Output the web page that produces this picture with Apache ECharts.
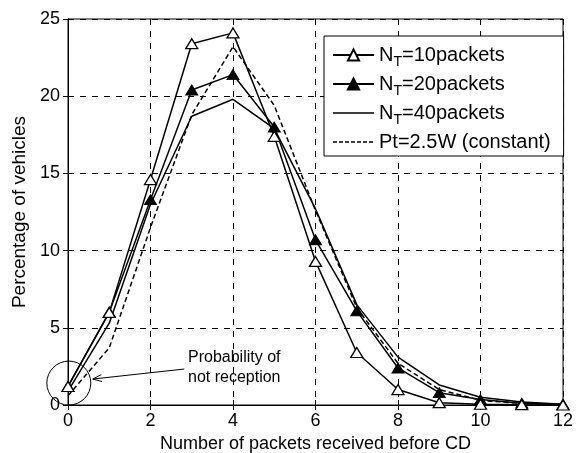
<!DOCTYPE html>
<html>
<head>
<meta charset="utf-8">
<script src="https://cdn.jsdelivr.net/npm/echarts@6/dist/echarts.min.js"></script>
<style>
html,body{margin:0;padding:0;background:#fff;}
#chart{width:585px;height:453px;}
</style>
</head>
<body>
<div id="chart"></div>
<script>
// Packets received before collision detection (CD)
const packets = [0, 1, 2, 3, 4, 5, 6, 7, 8, 9, 10, 11, 12];
const nt10 = [1.2, 6.0, 14.6, 23.4, 24.1, 17.4, 9.3, 3.4, 1.0, 0.15, 0.05, 0.02, 0.0];
const nt20 = [1.2, 6.0, 13.3, 20.4, 21.4, 18.0, 10.7, 6.1, 2.4, 0.8, 0.35, 0.12, 0.05];
const nt40 = [0.9, 5.3, 13.0, 18.7, 19.8, 17.9, 12.7, 6.5, 3.1, 1.3, 0.5, 0.2, 0.05];
const ptConst = [0.6, 3.7, 11.5, 18.8, 23.2, 19.4, 12.6, 6.3, 2.7, 1.0, 0.3, 0.1, 0.02];
const xTicks = [0, 2, 4, 6, 8, 10, 12];
const yTicks = [0, 5, 10, 15, 20, 25];

const seriesNames = ['NT10', 'NT20', 'NT40', 'Pt'];
const legendLabels = {
  NT10: '{n|N}{s|T}{n|=10packets}',
  NT20: '{n|N}{s|T}{n|=20packets}',
  NT40: '{n|N}{s|T}{n|=40packets}',
  Pt: '{n|Pt=2.5W (constant)}{s| }'
};

const FONT = '"Liberation Sans", Arial, sans-serif';
const pairs = arr => packets.map((x, i) => [x, arr[i]]);

// Legend icons: a plain line and a dashed line, with tiny corner specks so
// the path keeps the full icon box and is not stretched.
const speck = 'M0,0H0.01V0.01H0Z M41,14H40.99V13.99H41Z ';
const solidIcon = 'path://' + speck + 'M0,6.25H41V7.75H0Z';
let dashedIcon = 'path://' + speck;
for (let x = 0; x < 41; x += 6) {
  const e = Math.min(x + 4, 41);
  dashedIcon += 'M' + x + ',6.25H' + e + 'V7.75H' + x + 'Z ';
}

const chart = echarts.init(document.getElementById('chart'), null, {renderer: 'canvas'});

const gridLine = {show: true, lineStyle: {color: '#000', type: [6, 6], width: 1}};

const option = {
  backgroundColor: '#fff',
  animation: false,
  grid: {left: 68, right: 22, top: 19, bottom: 48, show: true, borderColor: '#000', borderWidth: 1,
         containLabel: false, outerBoundsMode: 'none'},
  legend: {
    orient: 'vertical',
    left: 324, top: 36,
    backgroundColor: '#fff',
    borderColor: '#000', borderWidth: 1,
    padding: [5, 9, 0, 8],
    itemWidth: 41, itemHeight: 14, itemGap: 1,
    data: [
      {name: 'NT10'},
      {name: 'NT20'},
      {name: 'NT40', icon: solidIcon},
      {name: 'Pt', icon: dashedIcon}
    ],
    formatter: name => legendLabels[name],
    textStyle: {
      color: '#000', fontFamily: FONT, fontSize: 20,
      rich: {
        n: {fontSize: 20, lineHeight: 22, fontFamily: FONT, color: '#000'},
        s: {fontSize: 14, lineHeight: 8, fontFamily: FONT, color: '#000', padding: [14, 0, 0, 0]}
      }
    }
  },
  xAxis: [{
    type: 'value', min: 0, max: 12, interval: 2,
    name: 'Number of packets received before CD',
    nameLocation: 'middle', nameGap: 29,
    nameTextStyle: {fontFamily: FONT, fontSize: 18, color: '#000'},
    axisLine: {show: true, onZero: false, lineStyle: {color: '#000', width: 1}},
    axisTick: {show: true, inside: true, length: 5, lineStyle: {color: '#000'}},
    axisLabel: {color: '#000', fontFamily: FONT, fontSize: 18, margin: 7,
      formatter: v => xTicks.includes(v) ? String(v) : ''},
    splitLine: gridLine
  }, {
    type: 'value', min: 0, max: 12, interval: 2, position: 'top',
    axisLine: {show: true, lineStyle: {color: '#000'}},
    axisTick: {show: true, inside: true, length: 5, lineStyle: {color: '#000'}},
    axisLabel: {show: false}, splitLine: {show: false}
  }],
  yAxis: [{
    type: 'value', min: 0, max: 25, interval: 5,
    name: 'Percentage of vehicles',
    nameLocation: 'middle', nameGap: 32,
    nameTextStyle: {fontFamily: FONT, fontSize: 19, color: '#000'},
    axisLine: {show: true, onZero: false, lineStyle: {color: '#000', width: 1}},
    axisTick: {show: true, inside: true, length: 5, lineStyle: {color: '#000'}},
    axisLabel: {color: '#000', fontFamily: FONT, fontSize: 18, margin: 8,
      formatter: v => yTicks.includes(v) ? String(v) : ''},
    splitLine: gridLine
  }, {
    type: 'value', min: 0, max: 25, interval: 5, position: 'right',
    axisLine: {show: true, lineStyle: {color: '#000'}},
    axisTick: {show: true, inside: true, length: 5, lineStyle: {color: '#000'}},
    axisLabel: {show: false}, splitLine: {show: false}
  }],
  series: [
    {
      name: 'NT10', type: 'line', data: pairs(nt10),
      symbol: 'triangle', symbolSize: [12, 10], showAllSymbol: true,
      lineStyle: {color: '#000', width: 1.5},
      itemStyle: {color: '#fff', borderColor: '#000', borderWidth: 1.3},
      z: 5
    },
    {
      name: 'NT20', type: 'line', data: pairs(nt20),
      symbol: 'triangle', symbolSize: [12, 10], showAllSymbol: true,
      lineStyle: {color: '#000', width: 1.5},
      itemStyle: {color: '#000', borderColor: '#000', borderWidth: 1},
      z: 4
    },
    {
      name: 'NT40', type: 'line', data: pairs(nt40),
      symbol: 'none',
      lineStyle: {color: '#000', width: 1.5},
      itemStyle: {color: '#000'},
      z: 3
    },
    {
      name: 'Pt', type: 'line', data: pairs(ptConst),
      symbol: 'none',
      lineStyle: {color: '#000', width: 1.5, type: [5, 3]},
      itemStyle: {color: '#000'},
      z: 3
    }
  ]
};

chart.setOption(option);

// Annotation: circle around the x = 0 values, with a labelled arrow
const px = (x, y) => chart.convertToPixel({gridIndex: 0}, [x, y]);
const c = px(0.02, 1.42);
const a0 = px(2.82, 2.33);
const a1 = px(0.6, 1.68);
const t1 = px(4.03, 3.1);
const t2 = px(4.03, 1.8);
chart.setOption({
  graphic: [
    {type: 'circle', shape: {cx: c[0], cy: c[1], r: 22},
     style: {fill: 'none', stroke: '#000', lineWidth: 1}, z: 10},
    {type: 'line', shape: {x1: a0[0], y1: a0[1], x2: a1[0], y2: a1[1]},
     style: {stroke: '#000', lineWidth: 1}, z: 10},
    {type: 'polyline', z: 10,
     shape: {points: (function () {
       const dx = a0[0] - a1[0], dy = a0[1] - a1[1];
       const L = Math.hypot(dx, dy), ux = dx / L, uy = dy / L;
       const h = 9, w = 3.5;
       return [
         [a1[0] + ux * h - uy * w, a1[1] + uy * h + ux * w],
         [a1[0], a1[1]],
         [a1[0] + ux * h + uy * w, a1[1] + uy * h - ux * w]
       ];
     })()},
     style: {fill: 'none', stroke: '#000', lineWidth: 1}},
    {type: 'text', x: t1[0], y: t1[1], z: 10,
     style: {text: 'Probability of', fill: '#000', font: '16px ' + FONT,
             textAlign: 'center', textVerticalAlign: 'middle'}},
    {type: 'text', x: t2[0], y: t2[1], z: 10,
     style: {text: 'not reception', fill: '#000', font: '16px ' + FONT,
             textAlign: 'center', textVerticalAlign: 'middle'}}
  ]
});
</script>
</body>
</html>
